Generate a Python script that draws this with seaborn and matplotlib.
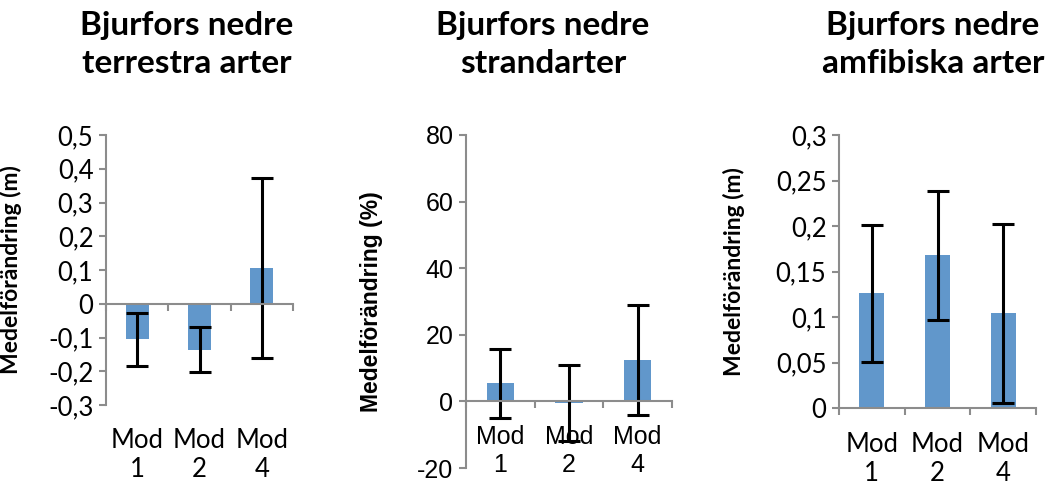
import matplotlib
matplotlib.use("Agg")
import matplotlib.pyplot as plt
import matplotlib.transforms as mtransforms
import seaborn as sns
import pandas as pd
import numpy as np

sns.set_theme(style="white")
plt.rcParams['font.family'] = ['Lato', 'DejaVu Sans']

# ---- data ----
categories = ["Mod\n1", "Mod\n2", "Mod\n4"]

terr_mean = [-0.105, -0.136, 0.106]
terr_err = [0.079, 0.067, 0.268]

strand_mean = [5.4, -0.5, 12.4]
strand_err = [10.3, 11.5, 16.4]

amfi_mean = [0.126, 0.168, 0.104]
amfi_err = [0.075, 0.071, 0.098]

titles = [["Bjurfors nedre", "terrestra arter"],
          ["Bjurfors nedre", "strandarter"],
          ["Bjurfors nedre", "amfibiska arter"]]
ylabels = ["Medelförändring (m)", "Medelförändring (%)", "Medelförändring (m)"]

terr_ticks = [-0.3, -0.2, -0.1, 0, 0.1, 0.2, 0.3, 0.4, 0.5]
strand_ticks = [-20, 0, 20, 40, 60, 80]
amfi_ticks = [0, 0.05, 0.1, 0.15, 0.2, 0.25, 0.3]

BAR = "#6197cb"
GREY = "#8c8c8c"

W, H = 1053, 484
fig = plt.figure(figsize=(W / 100, H / 100), dpi=100)

def ax_px(l, r, t, b):
    return fig.add_axes([l / W, (H - b) / H, (r - l) / W, (b - t) / H])

panels = [
    dict(rect=(106, 293, 135, 405), mean=terr_mean, err=terr_err, ticks=terr_ticks,
         zero_spine=True, lab_y=428, tfont='Lato', tsize=18.5, title_x=187, ylab_x=22,
         width=0.37, ysize=16.5),
    dict(rect=(466, 672, 135, 468), mean=strand_mean, err=strand_err, ticks=strand_ticks,
         zero_spine=True, lab_y=425, tfont='Liberation Sans', tsize=18, title_x=543, ylab_x=383,
         width=0.4, ysize=16.5),
    dict(rect=(839, 1036, 135, 408), mean=amfi_mean, err=amfi_err, ticks=amfi_ticks,
         zero_spine=False, lab_y=432, tfont='Lato', tsize=18.5, title_x=933, ylab_x=745,
         width=0.38, ysize=16.5),
]

def fmt(v):
    s = f"{round(v, 4):g}"
    return s.replace(".", ",")

for i, p in enumerate(panels):
    l, r, t, b = p["rect"]
    ax = ax_px(l, r, t, b)
    df = pd.DataFrame({"cat": categories, "val": p["mean"]})
    sns.barplot(data=df, x="cat", y="val", ax=ax, color=BAR, saturation=1,
                width=p["width"], errorbar=None, edgecolor="none")
    ax.errorbar(range(len(categories)), p["mean"], yerr=p["err"], fmt="none",
                ecolor="black", elinewidth=2.2, capsize=8, capthick=2.2)
    ax.set_xlim(-0.5, 2.5)
    ax.set_ylim(p["ticks"][0], p["ticks"][-1])
    ax.set_yticks(p["ticks"])
    ax.set_yticklabels([fmt(v) for v in p["ticks"]], fontsize=p["tsize"], family=p["tfont"],
                       color="black")
    ax.set_xticks([-0.5, 0.5, 1.5, 2.5])
    ax.set_xticklabels([])
    ax.set_xlabel("")
    ax.set_ylabel(ylabels[i], fontsize=p["ysize"], fontweight="bold",
                  fontfamily=[p["tfont"], "DejaVu Sans"], color="black")
    ax.yaxis.set_label_coords((p["ylab_x"] - l) / (r - l), 0.5)
    for s in ["top", "right"]:
        ax.spines[s].set_visible(False)
    for s in ["left", "bottom"]:
        ax.spines[s].set_color(GREY)
        ax.spines[s].set_linewidth(1.5)
    if p["zero_spine"]:
        ax.spines["bottom"].set_position(("data", 0))
    ax.tick_params(axis="y", direction="out", length=5, width=1.5, color=GREY, pad=4, left=True)
    ax.tick_params(axis="x", direction="out", length=5, width=1.5, color=GREY, bottom=True)
    ax.set_facecolor("none")
    trans = mtransforms.blended_transform_factory(ax.transData, ax.transAxes)
    ylab = (b - p["lab_y"]) / (b - t)
    for j, c in enumerate(categories):
        ax.text(j, ylab, c, transform=trans, ha="center", va="top", fontsize=p["tsize"],
                family=p["tfont"], linespacing=1.2, clip_on=False, color="black")
    for k, line in enumerate(titles[i]):
        fig.text(p["title_x"] / W, 1 - (35 + 38 * k) / H, line, ha="center", va="baseline",
                 fontsize=24, fontweight="bold", color="black")

fig.savefig("out.png", dpi=100, facecolor="white")
